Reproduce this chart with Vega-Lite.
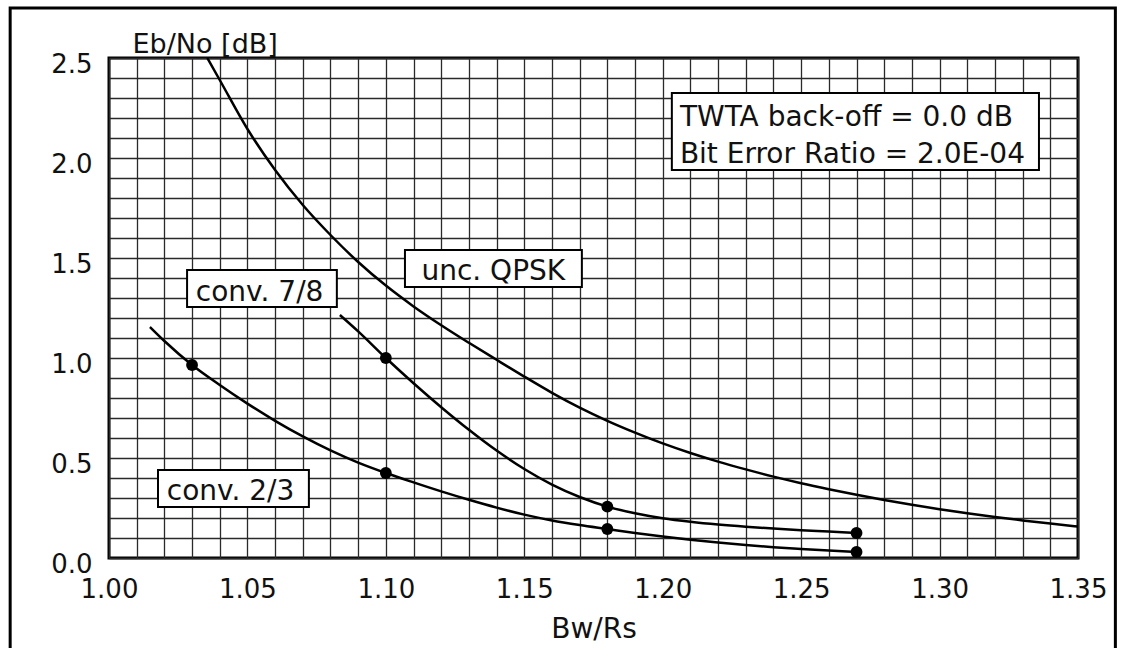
{
  "$schema": "https://vega.github.io/schema/vega-lite/v6.json",
  "width": 969,
  "height": 500,
  "autosize": {"type": "none"},
  "padding": {"left": 109, "top": 58, "right": 43, "bottom": 90},
  "background": "white",
  "config": {
    "font": "DejaVu Sans",
    "view": {"stroke": "black", "strokeWidth": 3}
  },
  "resolve": {"axis": {"x": "independent", "y": "independent"}},
  "datasets": {
    "curves": [
      {"series": "unc. QPSK", "x": 1.0355, "y": 2.5},
      {"series": "unc. QPSK", "x": 1.04, "y": 2.39},
      {"series": "unc. QPSK", "x": 1.05, "y": 2.145},
      {"series": "unc. QPSK", "x": 1.06, "y": 1.94},
      {"series": "unc. QPSK", "x": 1.07, "y": 1.765},
      {"series": "unc. QPSK", "x": 1.08, "y": 1.615},
      {"series": "unc. QPSK", "x": 1.09, "y": 1.48},
      {"series": "unc. QPSK", "x": 1.1, "y": 1.362},
      {"series": "unc. QPSK", "x": 1.11, "y": 1.258},
      {"series": "unc. QPSK", "x": 1.12, "y": 1.164},
      {"series": "unc. QPSK", "x": 1.13, "y": 1.076},
      {"series": "unc. QPSK", "x": 1.14, "y": 0.991},
      {"series": "unc. QPSK", "x": 1.15, "y": 0.907},
      {"series": "unc. QPSK", "x": 1.16, "y": 0.826},
      {"series": "unc. QPSK", "x": 1.17, "y": 0.752},
      {"series": "unc. QPSK", "x": 1.18, "y": 0.686},
      {"series": "unc. QPSK", "x": 1.19, "y": 0.627},
      {"series": "unc. QPSK", "x": 1.2, "y": 0.573},
      {"series": "unc. QPSK", "x": 1.21, "y": 0.525},
      {"series": "unc. QPSK", "x": 1.22, "y": 0.482},
      {"series": "unc. QPSK", "x": 1.23, "y": 0.443},
      {"series": "unc. QPSK", "x": 1.24, "y": 0.407},
      {"series": "unc. QPSK", "x": 1.25, "y": 0.374},
      {"series": "unc. QPSK", "x": 1.26, "y": 0.344},
      {"series": "unc. QPSK", "x": 1.27, "y": 0.316},
      {"series": "unc. QPSK", "x": 1.28, "y": 0.29},
      {"series": "unc. QPSK", "x": 1.29, "y": 0.266},
      {"series": "unc. QPSK", "x": 1.3, "y": 0.244},
      {"series": "unc. QPSK", "x": 1.31, "y": 0.224},
      {"series": "unc. QPSK", "x": 1.32, "y": 0.205},
      {"series": "unc. QPSK", "x": 1.33, "y": 0.188},
      {"series": "unc. QPSK", "x": 1.34, "y": 0.172},
      {"series": "unc. QPSK", "x": 1.35, "y": 0.157},
      {"series": "conv. 7/8", "x": 1.0834, "y": 1.215},
      {"series": "conv. 7/8", "x": 1.09, "y": 1.133},
      {"series": "conv. 7/8", "x": 1.1, "y": 1.0},
      {"series": "conv. 7/8", "x": 1.11, "y": 0.874},
      {"series": "conv. 7/8", "x": 1.12, "y": 0.754},
      {"series": "conv. 7/8", "x": 1.13, "y": 0.641},
      {"series": "conv. 7/8", "x": 1.14, "y": 0.537},
      {"series": "conv. 7/8", "x": 1.15, "y": 0.445},
      {"series": "conv. 7/8", "x": 1.16, "y": 0.367},
      {"series": "conv. 7/8", "x": 1.17, "y": 0.305},
      {"series": "conv. 7/8", "x": 1.18, "y": 0.257},
      {"series": "conv. 7/8", "x": 1.19, "y": 0.224},
      {"series": "conv. 7/8", "x": 1.2, "y": 0.199},
      {"series": "conv. 7/8", "x": 1.21, "y": 0.181},
      {"series": "conv. 7/8", "x": 1.22, "y": 0.167},
      {"series": "conv. 7/8", "x": 1.23, "y": 0.156},
      {"series": "conv. 7/8", "x": 1.24, "y": 0.147},
      {"series": "conv. 7/8", "x": 1.25, "y": 0.139},
      {"series": "conv. 7/8", "x": 1.26, "y": 0.132},
      {"series": "conv. 7/8", "x": 1.27, "y": 0.125},
      {"series": "conv. 2/3", "x": 1.0148, "y": 1.155},
      {"series": "conv. 2/3", "x": 1.02, "y": 1.085},
      {"series": "conv. 2/3", "x": 1.03, "y": 0.965},
      {"series": "conv. 2/3", "x": 1.04, "y": 0.865},
      {"series": "conv. 2/3", "x": 1.05, "y": 0.772},
      {"series": "conv. 2/3", "x": 1.06, "y": 0.686},
      {"series": "conv. 2/3", "x": 1.07, "y": 0.608},
      {"series": "conv. 2/3", "x": 1.08, "y": 0.538},
      {"series": "conv. 2/3", "x": 1.09, "y": 0.477},
      {"series": "conv. 2/3", "x": 1.1, "y": 0.425},
      {"series": "conv. 2/3", "x": 1.11, "y": 0.378},
      {"series": "conv. 2/3", "x": 1.12, "y": 0.333},
      {"series": "conv. 2/3", "x": 1.13, "y": 0.291},
      {"series": "conv. 2/3", "x": 1.14, "y": 0.252},
      {"series": "conv. 2/3", "x": 1.15, "y": 0.217},
      {"series": "conv. 2/3", "x": 1.16, "y": 0.188},
      {"series": "conv. 2/3", "x": 1.17, "y": 0.165},
      {"series": "conv. 2/3", "x": 1.18, "y": 0.145},
      {"series": "conv. 2/3", "x": 1.19, "y": 0.125},
      {"series": "conv. 2/3", "x": 1.2, "y": 0.107},
      {"series": "conv. 2/3", "x": 1.21, "y": 0.091},
      {"series": "conv. 2/3", "x": 1.22, "y": 0.077},
      {"series": "conv. 2/3", "x": 1.23, "y": 0.065},
      {"series": "conv. 2/3", "x": 1.24, "y": 0.054},
      {"series": "conv. 2/3", "x": 1.25, "y": 0.045},
      {"series": "conv. 2/3", "x": 1.26, "y": 0.037},
      {"series": "conv. 2/3", "x": 1.27, "y": 0.03}
    ],
    "markers": [
      {"series": "conv. 2/3", "x": 1.03, "y": 0.965},
      {"series": "conv. 2/3", "x": 1.1, "y": 0.425},
      {"series": "conv. 2/3", "x": 1.18, "y": 0.145},
      {"series": "conv. 2/3", "x": 1.27, "y": 0.03},
      {"series": "conv. 7/8", "x": 1.1, "y": 1.0},
      {"series": "conv. 7/8", "x": 1.18, "y": 0.257},
      {"series": "conv. 7/8", "x": 1.27, "y": 0.125}
    ],
    "boxes": [
      {"name": "unc. QPSK", "x": 1.1069, "x2": 1.1708, "y": 1.54, "y2": 1.355},
      {"name": "conv. 7/8", "x": 1.0282, "x2": 1.0823, "y": 1.44, "y2": 1.255},
      {"name": "conv. 2/3", "x": 1.0177, "x2": 1.0722, "y": 0.44, "y2": 0.255},
      {"name": "note", "x": 1.2033, "x2": 1.3359, "y": 2.325, "y2": 1.94}
    ],
    "labels": [
      {"text": "unc. QPSK", "x": 1.1388, "y": 1.432},
      {"text": "conv. 7/8", "x": 1.0544, "y": 1.327},
      {"text": "conv. 2/3", "x": 1.0439, "y": 0.329}
    ],
    "notes": [
      {"text": "TWTA back-off = 0.0 dB", "x": 1.2062, "y": 2.2},
      {"text": "Bit Error Ratio = 2.0E-04", "x": 1.2062, "y": 2.017}
    ],
    "frame": [
      {"x": 0.9643, "x2": 1.3635, "y": 2.75, "y2": -0.6}
    ]
  },
  "layer": [
    {
      "data": {"name": "curves"},
      "mark": {"type": "line", "color": "black", "strokeWidth": 2.5, "interpolate": "monotone"},
      "encoding": {
        "x": {
          "field": "x", "type": "quantitative",
          "scale": {"domain": [1.0, 1.35], "nice": false, "zero": false},
          "axis": {
            "orient": "bottom", "title": null,
            "values": [1.0, 1.01, 1.02, 1.03, 1.04, 1.05, 1.06, 1.07, 1.08, 1.09, 1.1, 1.11, 1.12, 1.13, 1.14, 1.15, 1.16, 1.17, 1.18, 1.19, 1.2, 1.21, 1.22, 1.23, 1.24, 1.25, 1.26, 1.27, 1.28, 1.29, 1.3, 1.31, 1.32, 1.33, 1.34, 1.35],
            "grid": true, "gridColor": "#2a2a2a", "gridWidth": 1.3,
            "ticks": false, "domain": false, "labels": false
          }
        },
        "y": {
          "field": "y", "type": "quantitative",
          "scale": {"domain": [0, 2.5], "nice": false, "zero": false},
          "axis": {
            "orient": "left", "title": null,
            "values": [0, 0.1, 0.2, 0.3, 0.4, 0.5, 0.6, 0.7, 0.8, 0.9, 1.0, 1.1, 1.2, 1.3, 1.4, 1.5, 1.6, 1.7, 1.8, 1.9, 2.0, 2.1, 2.2, 2.3, 2.4, 2.5],
            "grid": true, "gridColor": "#2a2a2a", "gridWidth": 1.3,
            "ticks": false, "domain": false, "labels": false
          }
        },
        "detail": {"field": "series"}
      }
    },
    {
      "data": {"name": "markers"},
      "mark": {"type": "point", "filled": true, "color": "black", "size": 140, "opacity": 1},
      "encoding": {
        "x": {
          "field": "x", "type": "quantitative",
          "axis": {
            "orient": "bottom", "title": "Bw/Rs",
            "values": [1.0, 1.05, 1.1, 1.15, 1.2, 1.25, 1.3, 1.35],
            "format": ".2f",
            "grid": false, "ticks": false, "domain": false,
            "labelFont": "DejaVu Sans", "labelFontSize": 26, "labelColor": "#111111",
            "labelPadding": 39, "labelBaseline": "alphabetic",
            "labelFlush": false, "labelOverlap": false, "labelBound": false,
            "titleFont": "DejaVu Sans", "titleFontSize": 28, "titleFontWeight": "normal", "titleColor": "#111111",
            "titleY": 79, "titleBaseline": "alphabetic"
          }
        },
        "y": {
          "field": "y", "type": "quantitative",
          "axis": {
            "orient": "left", "title": "Eb/No [dB]",
            "values": [0, 0.5, 1.0, 1.5, 2.0, 2.5],
            "format": ".1f",
            "grid": false, "ticks": false, "domain": false,
            "labelFont": "DejaVu Sans", "labelFontSize": 26, "labelColor": "#111111",
            "labelPadding": 17, "labelBaseline": "alphabetic", "labelOffset": 14,
            "labelFlush": false, "labelOverlap": false, "labelBound": false,
            "titleFont": "DejaVu Sans", "titleFontSize": 27, "titleFontWeight": "normal", "titleColor": "#111111",
            "titleAngle": 0, "titleAlign": "left", "titleBaseline": "alphabetic",
            "titleX": 23, "titleY": -6
          }
        }
      }
    },
    {
      "data": {"name": "boxes"},
      "mark": {"type": "rect", "fill": "white", "stroke": "black", "strokeWidth": 2},
      "encoding": {
        "x": {"field": "x", "type": "quantitative", "axis": null},
        "x2": {"field": "x2"},
        "y": {"field": "y", "type": "quantitative", "axis": null},
        "y2": {"field": "y2"}
      }
    },
    {
      "data": {"name": "labels"},
      "mark": {"type": "text", "font": "DejaVu Sans", "fontSize": 28, "align": "center", "baseline": "middle", "color": "#111111"},
      "encoding": {
        "x": {"field": "x", "type": "quantitative", "axis": null},
        "y": {"field": "y", "type": "quantitative", "axis": null},
        "text": {"field": "text"}
      }
    },
    {
      "data": {"name": "notes"},
      "mark": {"type": "text", "font": "DejaVu Sans", "fontSize": 28, "align": "left", "baseline": "middle", "color": "#111111"},
      "encoding": {
        "x": {"field": "x", "type": "quantitative", "axis": null},
        "y": {"field": "y", "type": "quantitative", "axis": null},
        "text": {"field": "text"}
      }
    },
    {
      "data": {"name": "frame"},
      "mark": {"type": "rect", "filled": false, "stroke": "black", "strokeWidth": 3, "clip": false},
      "encoding": {
        "x": {"field": "x", "type": "quantitative", "axis": null},
        "x2": {"field": "x2"},
        "y": {"field": "y", "type": "quantitative", "axis": null},
        "y2": {"field": "y2"}
      }
    }
  ]
}
